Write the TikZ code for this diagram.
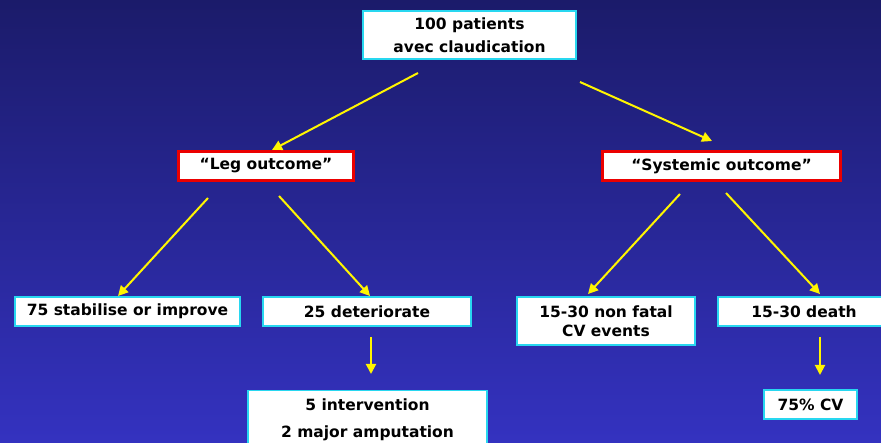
\documentclass[tikz,border=0pt]{standalone}
\usepackage{fontspec}
\setmainfont{DejaVu Sans}
\usetikzlibrary{arrows.meta}
\definecolor{bgtop}{RGB}{27,27,106}
\definecolor{bgbot}{RGB}{52,50,192}
\definecolor{boxcyan}{RGB}{40,215,240}
\definecolor{boxred}{RGB}{235,0,0}
\definecolor{arrowyel}{RGB}{255,245,0}
\tikzset{
  cbox/.style={draw=boxcyan, line width=1.5pt, fill=white, inner sep=0pt,
    font=\fontsize{15.5}{23}\selectfont\bfseries, align=center, text=black},
  rbox/.style={draw=boxred, line width=3.5pt, fill=white, inner sep=0pt,
    font=\fontsize{15.5}{23}\selectfont\bfseries, align=center, text=black},
  yarrow/.style={draw=arrowyel, line width=2pt, -{Triangle[length=10pt,width=10pt]}}
}
\begin{document}
\begin{tikzpicture}[x=1pt,y=-1pt]
\shade[top color=bgtop, bottom color=bgbot] (0,0) rectangle (881,443);
\clip (0,0) rectangle (881,443);

\node[cbox, minimum width=213pt, minimum height=48pt] (top) at (469.5,35) {100 patients\\avec claudication};
\node[rbox, minimum width=175pt, minimum height=29pt] (leg) at (266,166) {“Leg outcome”};
\node[rbox, minimum width=238pt, minimum height=29pt] (sys) at (721.5,166) {“Systemic outcome”};
\node[cbox, minimum width=225pt, minimum height=29pt] (stab) at (127.5,311.5) {75 stabilise or improve};
\node[cbox, minimum width=208pt, minimum height=29pt] (det) at (367,311.5) {25 deteriorate};
\node[cbox, minimum width=178pt, minimum height=48pt, font=\fontsize{15.5}{19}\selectfont\bfseries] (nonfatal) at (606,321) {15-30 non fatal\\CV events};
\node[cbox, minimum width=172pt, minimum height=29pt] (death) at (804,311.5) {15-30 death};
\node[cbox, anchor=north, minimum width=239pt, text depth=40pt, inner ysep=8pt, font=\fontsize{15.5}{27}\selectfont\bfseries] (interv) at (367.5,390) {5 intervention\\2 major amputation};
\node[cbox, minimum width=93pt, minimum height=29pt] (cv) at (810.5,404.5) {75\% CV};

\coordinate (a1s) at (418,73);  \coordinate (a1e) at (272,150);
\coordinate (a2s) at (580,82);  \coordinate (a2e) at (712,141);
\coordinate (a3s) at (208,198); \coordinate (a3e) at (118,296);
\coordinate (a4s) at (279,196); \coordinate (a4e) at (370,296);
\coordinate (a5s) at (680,194); \coordinate (a5e) at (588,294);
\coordinate (a6s) at (726,193); \coordinate (a6e) at (820,294);
\coordinate (a7s) at (371,337); \coordinate (a7e) at (371,374);
\coordinate (a8s) at (820,337); \coordinate (a8e) at (820,375);

\draw[yarrow] (a1s) -- (a1e);
\draw[yarrow] (a2s) -- (a2e);
\draw[yarrow] (a3s) -- (a3e);
\draw[yarrow] (a4s) -- (a4e);
\draw[yarrow] (a5s) -- (a5e);
\draw[yarrow] (a6s) -- (a6e);
\draw[yarrow] (a7s) -- (a7e);
\draw[yarrow] (a8s) -- (a8e);
\end{tikzpicture}
\end{document}
